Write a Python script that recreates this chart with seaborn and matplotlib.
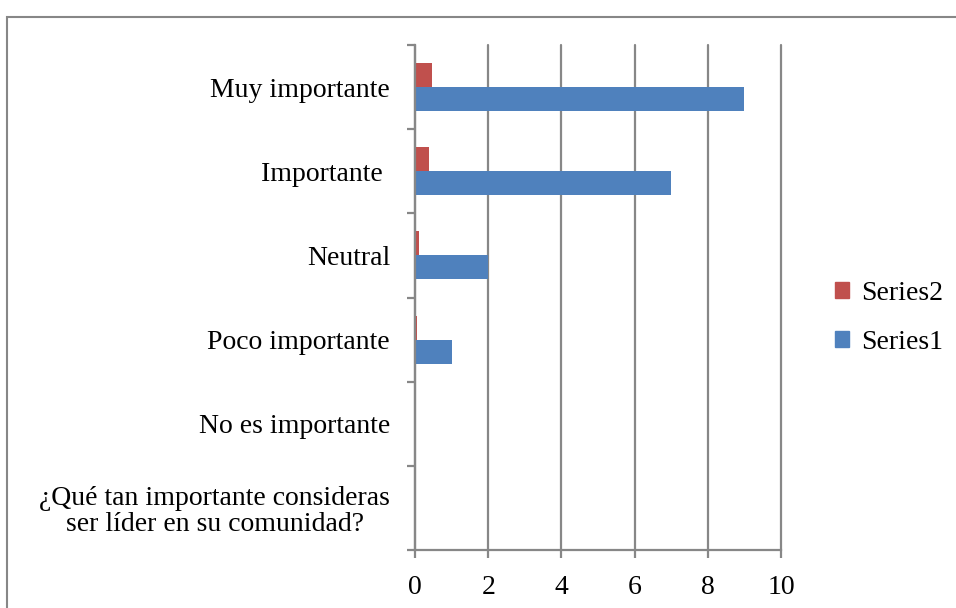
import matplotlib
matplotlib.use("Agg")
import matplotlib.pyplot as plt
import matplotlib.patches as mpatches
from matplotlib.ticker import FixedLocator
import seaborn as sns
import pandas as pd

categories = ["Muy importante", "Importante ", "Neutral", "Poco importante",
              "No es importante", "¿Qué tan importante consideras\nser líder en su comunidad?"]
series1 = [9, 7, 2, 1, 0, 0]
series2 = [0.47, 0.37, 0.11, 0.05, 0, 0]
series_names = ["Series2", "Series1"]
x_ticks = [0, 2, 4, 6, 8, 10]

df = pd.DataFrame({
    "cat": categories * 2,
    "val": series2 + series1,
    "series": ["Series2"] * len(categories) + ["Series1"] * len(categories),
})

sns.set_style("white")
plt.rcParams["font.family"] = ["Liberation Serif", "DejaVu Serif"]
plt.rcParams["text.color"] = "black"

fig = plt.figure(figsize=(9.56, 6.08), dpi=100)
ax = fig.add_axes([415/956, 1-550/608, (781-415)/956, (550-45)/608])

palette = {"Series2": "#C0504D", "Series1": "#4F81BD"}
sns.barplot(data=df, y="cat", x="val", hue="series", hue_order=series_names,
            order=categories, orient="h", palette=palette, width=0.57, gap=0,
            saturation=1, ax=ax, legend=False, edgecolor="none", linewidth=0)

fs = 20
ax.set_xlim(0, 10)
ax.set_ylim(len(categories) - 0.5, -0.5)
ax.set_xticks(x_ticks)
ax.set_xticklabels([str(t) for t in x_ticks], fontsize=fs)
ax.set_xlabel("")
ax.set_ylabel("")
ax.set_yticks(range(len(categories)))
ax.set_yticklabels(categories, fontsize=fs, multialignment="center", linespacing=1.05)
ax.yaxis.set_minor_locator(FixedLocator([i - 0.5 for i in range(len(categories) + 1)]))

grey = "#878787"
ax.grid(axis="x", color=grey, linewidth=1.6)
for gl in ax.get_xgridlines():
    gl.set_clip_on(False)
ax.set_axisbelow(True)
for s in ["top", "right"]:
    ax.spines[s].set_visible(False)
for s in ["left", "bottom"]:
    ax.spines[s].set_color(grey)
    ax.spines[s].set_linewidth(1.6)

ax.tick_params(axis="y", which="major", length=0, pad=18, colors="black")
ax.tick_params(axis="y", which="minor", length=6, width=1.6, color=grey, left=True, direction="out")
ax.tick_params(axis="x", which="major", length=6, width=1.6, color=grey, bottom=True,
               direction="out", pad=12, labelcolor="black")

handles = [mpatches.Patch(color=palette[n], label=n) for n in series_names]
fig.legend(handles=handles, loc="center left", bbox_to_anchor=(835/956, 1-318/608),
           frameon=False, fontsize=fs, handlelength=0.5, handleheight=0.5,
           handletextpad=0.45, labelspacing=0.85, borderpad=0, borderaxespad=0,
           labelcolor="black")

rect = mpatches.Rectangle((6.5/956, -0.1), 1.2, 1 - 16.5/608 + 0.1, transform=fig.transFigure,
                          fill=False, edgecolor=grey, linewidth=1.5, clip_on=False)
fig.patches.append(rect)

fig.savefig("out.png", dpi=100)
